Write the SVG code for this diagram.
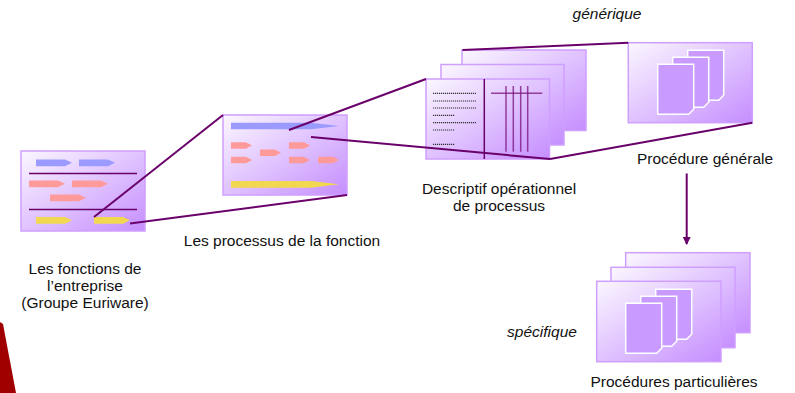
<svg xmlns="http://www.w3.org/2000/svg" xmlns:xlink="http://www.w3.org/1999/xlink" width="795" height="393" viewBox="0 0 795 393">
<style>
text{font-family:"Liberation Sans",Arial,sans-serif;font-size:15.5px;fill:#111;text-anchor:middle}
.it{font-style:italic}
.page{fill:url(#pg);stroke:#cf9fff;stroke-width:1.5}
.conn{stroke:#6a006a;stroke-width:2;fill:none}
.sep{stroke:#6a006a;stroke-width:1.5}
.blue{fill:#9a9aff}
.pink{fill:#ff9a9a}
.yel{fill:#f2d850}
.doc{fill:#c99aff;stroke:#fff;stroke-width:1.5}
.dot{stroke:#333;stroke-width:1.2;stroke-dasharray:1.2 0.8}
.vl{stroke:#7a107a;stroke-width:1.5;opacity:0.75}
</style>
<defs>
<linearGradient id="pg" x1="0" y1="0" x2="1" y2="1">
<stop offset="0" stop-color="#fbf7ff"/>
<stop offset="1" stop-color="#c58eff"/>
</linearGradient>
<path id="docp" d="M0,0H36V45L31,50H0Z"/>
<path id="arr" d="M0,0H29L36,3.3L29,6.7H0Z"/>
<path id="arrS" d="M0,0H15L21,3.2L15,6.5H0Z"/>
<g id="docs3">
<use xlink:href="#docp" class="doc" x="30" y="0"/>
<use xlink:href="#docp" class="doc" x="15" y="7"/>
<use xlink:href="#docp" class="doc" x="0" y="14"/>
</g>
<marker id="ah" markerWidth="8" markerHeight="8" refX="7" refY="4" orient="auto" markerUnits="userSpaceOnUse" viewBox="0 0 8 8">
<path d="M0,0L8,4L0,8Z" fill="#6a006a"/>
</marker>
</defs>
<rect width="795" height="393" fill="#fff"/>
<path d="M0,322L3,324L16,393H0Z" fill="#a00000"/>

<g id="node-fonctions">
<rect class="page" x="21" y="151" width="124" height="80"/>
<use xlink:href="#arr" class="blue" x="36" y="159.5"/>
<use xlink:href="#arr" class="blue" x="79" y="159.5"/>
<line class="sep" x1="29" y1="173.5" x2="137" y2="173.5"/>
<use xlink:href="#arr" class="pink" x="29" y="180.5"/>
<use xlink:href="#arr" class="pink" x="72" y="180.5"/>
<use xlink:href="#arr" class="pink" x="50" y="194.5"/>
<line class="sep" x1="29" y1="209.5" x2="137" y2="209.5"/>
<use xlink:href="#arr" class="yel" x="36" y="217"/>
<use xlink:href="#arr" class="yel" x="94" y="217"/>
<text x="85" y="274">Les fonctions de</text>
<text x="85" y="291">l’entreprise</text>
<text x="85" y="308">(Groupe Euriware)</text>
</g>

<g id="node-processus">
<rect class="page" x="223" y="115" width="124" height="80"/>
<path class="blue" d="M231,122.7H311L339,126L311,129.3H231Z"/>
<use xlink:href="#arrS" class="pink" x="231" y="142.2"/>
<use xlink:href="#arrS" class="pink" x="289" y="142.2"/>
<use xlink:href="#arrS" class="pink" x="260" y="149.5"/>
<use xlink:href="#arrS" class="pink" x="231" y="156.8"/>
<use xlink:href="#arrS" class="pink" x="289" y="156.8"/>
<use xlink:href="#arrS" class="pink" x="318" y="156.8"/>
<path class="yel" d="M231,181H311L339,184.3L311,187.7H231Z"/>
<text x="282" y="246">Les processus de la fonction</text>
</g>

<g id="node-descriptif">
<rect class="page" x="462" y="50" width="124" height="80.5"/>
<rect class="page" x="441" y="64.5" width="123" height="80.5"/>
<rect class="page" x="426" y="79" width="123.5" height="80"/>
<line class="sep" x1="484.3" y1="79" x2="484.3" y2="159"/>
<line class="dot" x1="433" y1="93.3" x2="476" y2="93.3"/>
<line class="dot" x1="433" y1="101" x2="476" y2="101"/>
<line class="dot" x1="433" y1="108" x2="476" y2="108"/>
<line class="dot" x1="433" y1="115.3" x2="455" y2="115.3"/>
<line class="dot" x1="433" y1="122.7" x2="476" y2="122.7"/>
<line class="dot" x1="433" y1="130" x2="455" y2="130"/>
<line class="dot" x1="433" y1="144.3" x2="455" y2="144.3"/>
<line class="vl" x1="491" y1="93.3" x2="542.3" y2="93.3"/>
<line class="vl" x1="506" y1="86" x2="506" y2="151.7"/>
<line class="vl" x1="513.3" y1="86" x2="513.3" y2="151.7"/>
<line class="vl" x1="520.7" y1="86" x2="520.7" y2="151.7"/>
<line class="vl" x1="527.7" y1="86" x2="527.7" y2="151.7"/>
<text x="499" y="193.5">Descriptif opérationnel</text>
<text x="499" y="210.5">de processus</text>
</g>

<g id="node-generale">
<rect class="page" x="628.3" y="42.7" width="124" height="80"/>
<use xlink:href="#docs3" x="657.7" y="50.3"/>
<text x="705" y="164">Procédure générale</text>
</g>

<g id="node-particulieres">
<rect class="page" x="625.7" y="252.7" width="124.3" height="80"/>
<rect class="page" x="611" y="267.3" width="124" height="80.4"/>
<rect class="page" x="596.7" y="281.3" width="124.3" height="80.4"/>
<use xlink:href="#docs3" x="625.7" y="289.3"/>
<text x="674" y="386.5">Procédures particulières</text>
</g>

<g id="labels">
<text class="it" x="607" y="19">générique</text>
<text class="it" x="542" y="336.5">spécifique</text>
</g>

<g id="connectors">
<line class="conn" x1="94" y1="217" x2="223" y2="115"/>
<line class="conn" x1="130" y1="223.5" x2="347" y2="195"/>
<line class="conn" x1="289" y1="130" x2="426" y2="79"/>
<line class="conn" x1="311" y1="137" x2="550" y2="159"/>
<line class="conn" x1="462.5" y1="50" x2="628.3" y2="42.7"/>
<line class="conn" x1="550" y1="159" x2="752.3" y2="122.7"/>
<line class="conn" x1="686.7" y1="173.5" x2="686.7" y2="244" marker-end="url(#ah)"/>
</g>
</svg>
